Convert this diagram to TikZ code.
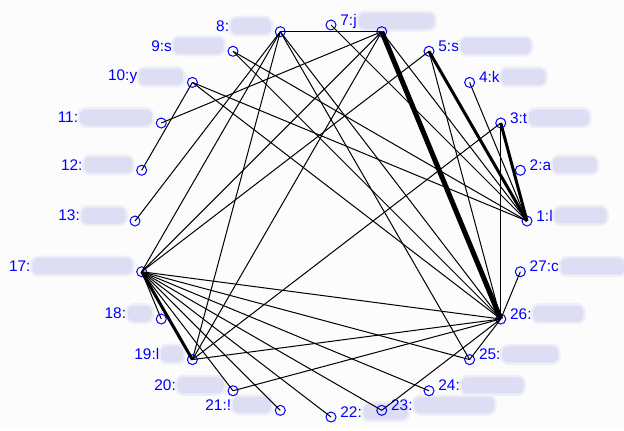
\documentclass[tikz,border=0pt]{standalone}
\usepackage{fontspec}
\setmainfont{Liberation Sans}
\usepackage{tikz}
\usetikzlibrary{positioning}
\definecolor{smudge}{RGB}{221,221,244}
\definecolor{paper}{RGB}{252,252,252}
\tikzset{
  vert/.style={circle, draw=blue, line width=0.5pt, inner sep=0pt, minimum size=5pt},
  lab/.style={text=blue, font=\fontsize{7.7}{9}\selectfont, inner sep=0pt},
  blob/.style={fill=smudge, rounded corners=3pt, minimum height=8pt, inner sep=0pt,
    preaction={draw=smudge!45!paper, line width=2.5pt}},
  link/.style={line width=0.5pt},
  heavy/.style={line width=1.5pt},
  heaviest/.style={line width=2.5pt},
}

\begin{document}
\begin{tikzpicture}[x=0.5pt, y=-0.5pt]
    \fill[paper] (0,0) rectangle (624,430);
    \useasboundingbox (0,0) rectangle (624,430);
    % labels right of the ring
    \foreach \Num/\Ang/\Txt/\Wd in {
      1/0/l/26, 2/15/a/22, 3/30/t/30, 4/45/k/22, 5/60/s/35,
      7/90/j/38, 22/270//22, 23/285//40, 24/300//31, 25/315//28,
      26/330//25, 27/345/c/32%
    }
    {
      \node[lab, anchor=base west] (t\Num) at ({331+196*cos(\Ang)+9},{221-196*sin(\Ang)}) {\Num:\Txt};
      \node[blob, minimum width=\Wd pt, right=0.5pt of t\Num] (b\Num) {};
    }
    % labels left of the ring
    \foreach \Num/\Ang/\Txt/\Wd in {
      8/105//20, 9/120/s/25, 10/135/y/22, 11/150//36, 12/165//24,
      13/180//22, 17/195//50, 18/210//12, 19/225/l/11, 20/240//23,
      21/255/!/19%
    }
    {
      \node[blob, minimum width=\Wd pt, anchor=east] (b\Num) at ({331+196*cos(\Ang)-9},{221-196*sin(\Ang)-5.5}) {};
      \node[lab, left=0.5pt of b\Num] (t\Num) {\Num:\Txt};
    }
    % ring of vertices
    \foreach \Num/\Ang in {
      1/0, 2/15, 3/30, 4/45, 5/60, 6/75, 7/90, 8/105, 9/120, 10/135,
      11/150, 12/165, 13/180, 17/195, 18/210, 19/225, 20/240, 21/255,
      22/270, 23/285, 24/300, 25/315, 26/330, 27/345%
    }
    \node[vert] (v\Num) at ({331+196*cos(\Ang)},{221-196*sin(\Ang)}) {};
    % ties
    \foreach \A/\B in {
      6/8, 6/11, 6/17, 6/19, 6/1, 3/26, 3/19, 5/26, 5/17, 4/1, 7/1,
      8/13, 8/17, 8/19, 8/25, 8/26, 9/1, 9/26, 10/1, 10/26, 10/12,
      17/18, 17/20, 17/21, 17/22, 17/23, 17/24, 17/25, 17/26,
      19/26, 20/26, 23/26, 25/26, 27/26%
    }
    \draw[link] (v\A.center) -- (v\B.center);
    \draw[heaviest] (v6.center) -- (v26.center);
    \draw[heavy] (v5.center) -- (v1.center);
    \draw[heavy] (v3.center) -- (v1.center);
    \draw[heavy] (v17.center) -- (v19.center);
\end{tikzpicture}
\end{document}
